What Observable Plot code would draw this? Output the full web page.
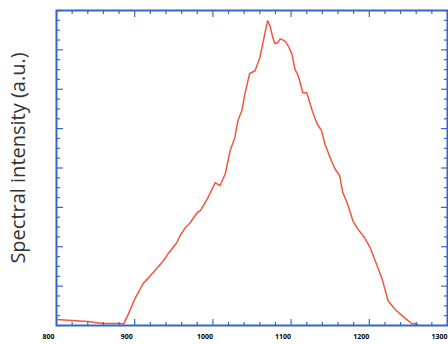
<!DOCTYPE html>
<html><head><meta charset="utf-8">
<script src="https://cdn.jsdelivr.net/npm/d3@7"></script>
<script src="https://cdn.jsdelivr.net/npm/@observablehq/plot@0.6"></script>
<style>body{margin:0;background:#fff;} #c{width:448px;height:344px;}</style>
</head><body><div id="c"></div>
<script>
const wavelength = [800,820,840,847,860,882,886,891,901,911,924,937,943,954,958,965,971,980,984,993,1003,1009,1016,1022,1028,1032,1037,1041,1047,1054,1060,1064,1069,1070,1073,1076,1079,1083,1086,1092,1096,1101,1105,1109,1115,1120,1127,1133,1139,1143,1150,1156,1162,1166,1172,1179,1185,1194,1201,1209,1217,1224,1232,1239,1248,1254,1262];
const intensity = [0.15,0.13,0.10,0.08,0.05,0.05,0.04,0.25,0.71,1.07,1.35,1.65,1.83,2.11,2.28,2.49,2.61,2.87,2.92,3.22,3.63,3.55,3.86,4.44,4.77,5.20,5.46,5.89,6.40,6.47,6.80,7.18,7.66,7.74,7.61,7.36,7.16,7.18,7.28,7.23,7.11,6.90,6.50,6.35,5.91,5.91,5.46,5.13,4.95,4.62,4.26,3.98,3.81,3.38,3.10,2.66,2.46,2.23,1.98,1.57,1.14,0.63,0.43,0.30,0.15,0.05,0.03];
const xMajor = [800,900,1000,1100,1200,1300];
const xMinor = d3.range(800,1301,20).filter(v => v % 100 !== 0);
const yMajor = [0,1,2,3,4,5,6,7,8];
const yMinor = d3.range(0,8.01,0.25).filter(v => v % 1 !== 0);
const yLabel = "Spectral intensity (a.u.)";

const data = wavelength.map((w,i)=>({w, v: intensity[i]}));
const blue = "#3568c4";
const blank = () => "";
const tk = {stroke: blue, strokeWidth: 1.2, tickFormat: blank, label: null};

const chart = Plot.plot({
  width: 448, height: 344,
  marginLeft: 56, marginRight: 1, marginTop: 10, marginBottom: 19,
  x: {domain: [800,1300]},
  y: {domain: [0,8]},
  marks: [
    Plot.line(data, {x: "w", y: "v", stroke: "#f1573f", strokeWidth: 1.5}),
    // bottom
    Plot.axisX(xMajor, {anchor: "bottom", tickSize: -6, ...tk}),
    Plot.axisX(xMinor, {anchor: "bottom", tickSize: -3, ...tk}),
    Plot.axisX(xMajor, {anchor: "bottom", tickSize: 0, tickPadding: 9, dx: -8, tickFormat: d => String(d), fontSize: 7, fontWeight: "bold", fill: "#000", label: null}),
    // top
    Plot.axisX(xMajor, {anchor: "top", tickSize: -6, ...tk}),
    Plot.axisX(xMinor, {anchor: "top", tickSize: -3, ...tk}),
    // left
    Plot.axisY(yMajor, {anchor: "left", tickSize: -7, ...tk}),
    Plot.axisY(yMinor, {anchor: "left", tickSize: -4, ...tk}),
    // right
    Plot.axisY(yMajor, {anchor: "right", tickSize: -7, ...tk}),
    Plot.axisY(yMinor, {anchor: "right", tickSize: -4, ...tk}),
    Plot.frame({stroke: blue, strokeWidth: 2}),
    Plot.text([yLabel], {frameAnchor: "left", textAnchor: "middle", rotate: -90, dx: -38, dy: -10, text: d => d, fontSize: 20, fontFamily: "Open Sans", fill: "#333"})
  ]
});
document.getElementById("c").appendChild(chart);
</script></body></html>
